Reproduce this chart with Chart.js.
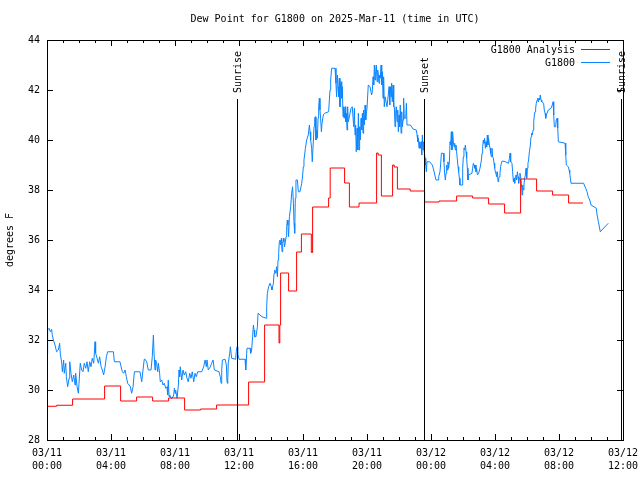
<!DOCTYPE html>
<html>
<head>
<meta charset="utf-8">
<title>Dew Point for G1800</title>
<script src="https://cdn.jsdelivr.net/npm/chart.js@4"></script>
<style>
  body { margin: 0; background: #fff; }
  canvas { display: block; }
</style>
</head>
<body>
<canvas id="myChart" width="640" height="480"></canvas>
<script>
// time is hours after 03/11 00:00 UTC, dew point in degrees F

// hourly analysis (value starts at the given hour)
const analysisHours = [0, 0.6, 1.6, 3.6, 4.6, 5.6, 6.6, 7.6, 8.6, 9.6,
  10.6, 12.6, 13.6, 14.5, 14.55, 14.6, 15.1, 15.6, 15.9, 16.52,
  16.6, 17.6, 17.7, 18.6, 18.9, 19.5, 20.6, 20.7, 20.9, 21.6,
  21.7, 21.9, 22.7, 23.6, 24.5, 25.6, 26.6, 27.6, 28.6, 29.6,
  30.6, 31.6, 32.6, 33.5];
const analysisDewpt = [29.35, 29.39, 29.64, 30.16, 29.56, 29.72, 29.56, 29.68, 29.2, 29.24,
  29.4, 30.32, 32.6, 31.88, 32.6, 34.68, 33.96, 35.52, 36.24, 35.5,
  37.32, 37.68, 38.88, 38.28, 37.32, 37.48, 39.48, 39.4, 37.76, 39.0,
  38.92, 38.04, 37.96, 37.52, 37.56, 37.76, 37.68, 37.44, 37.08, 38.44,
  37.96, 37.8, 37.48, 37.48];

// station readings [hour, dew point]
const g1800Obs = [
  [0.00,31.47],[0.04,32.40],[0.13,32.47],[0.21,32.33],[0.29,32.43],[0.33,32.20],[0.40,32.00],[0.50,31.80],[0.60,31.53],[0.71,31.60],
  [0.79,31.87],[0.83,31.47],[0.92,31.07],[0.96,30.73],[1.04,31.20],[1.08,30.67],[1.17,31.07],[1.21,30.53],[1.29,30.13],[1.38,30.47],
  [1.42,31.13],[1.50,30.67],[1.58,30.33],[1.67,30.60],[1.75,30.20],[1.79,30.67],[1.88,30.13],[1.96,29.87],[2.00,30.27],[2.08,31.07],
  [2.17,30.80],[2.25,30.73],[2.33,31.07],[2.42,30.87],[2.50,31.13],[2.58,30.73],[2.67,31.13],[2.75,30.93],[2.83,31.27],[2.92,31.07],
  [3.00,31.93],[3.04,31.47],[3.13,31.27],[3.21,31.07],[3.29,31.33],[3.38,30.93],[3.46,30.80],[3.54,30.60],[3.63,30.93],[3.71,31.33],
  [3.79,31.53],[4.15,31.53],[4.21,31.13],[4.56,31.13],[4.63,30.93],[4.71,30.73],[4.79,30.67],[4.88,30.80],[4.96,30.53],[5.04,30.27],
  [5.13,30.20],[5.21,30.13],[5.29,29.87],[5.38,30.13],[5.46,30.73],[5.81,30.73],[5.92,30.33],[6.00,30.80],[6.08,31.23],
  [6.13,31.23],[6.23,31.13],[6.33,30.80],[6.50,30.80],[6.58,31.33],[6.65,32.20],[6.69,31.47],[6.75,30.80],[6.79,31.20],[6.85,31.07],
  [6.92,30.73],[6.96,31.07],[7.04,30.67],[7.08,30.33],[7.17,30.40],[7.25,30.20],[7.33,30.27],[7.42,30.07],[7.50,30.13],[7.54,29.80],
  [7.58,30.40],[7.63,29.73],[7.67,29.80],[7.75,29.67],[7.83,29.67],[7.92,29.80],[7.96,30.07],[8.00,29.87],[8.04,30.00],[8.13,29.67],
  [8.21,30.20],[8.25,30.80],[8.29,30.53],[8.33,30.93],[8.42,30.40],[8.50,30.80],[8.58,30.60],[8.67,30.73],[8.75,30.47],[8.83,30.33],
  [8.92,30.67],[9.00,30.47],[9.08,30.73],[9.17,30.33],[9.25,30.67],[9.33,30.53],[9.42,30.73],[9.67,30.73],[9.79,30.93],[9.88,31.20],
  [9.96,30.93],[10.00,31.20],[10.08,30.80],[10.21,30.93],[10.29,31.07],[10.38,31.20],[10.46,30.80],[10.75,30.73],[10.83,30.53],[10.88,30.27],
  [10.92,30.80],[10.96,31.20],[11.13,31.23],[11.21,31.00],[11.25,30.33],[11.29,30.27],[11.33,31.07],[11.42,31.47],[11.46,31.73],[11.54,31.27],
  [11.79,31.23],[11.83,31.53],[11.88,31.73],[11.92,31.47],[12.00,31.23],[12.38,31.23],[12.42,30.80],[12.46,31.23],[12.50,31.67],
  [12.69,31.67],[12.73,31.47],[12.79,31.60],[12.85,32.13],[12.90,32.60],[12.94,32.40],[12.98,32.13],[13.06,32.13],[13.15,32.53],[13.19,33.07],
  [13.44,32.93],[13.69,32.87],[13.73,33.33],[13.77,33.87],[13.85,34.13],[13.94,34.27],[14.02,34.13],[14.06,34.00],[14.15,34.27],[14.19,34.67],
  [14.23,34.80],[14.31,34.67],[14.35,34.93],[14.40,34.53],[14.44,35.20],[14.48,35.47],[14.52,35.93],[14.56,36.00],[14.60,35.80],[14.65,36.07],
  [14.69,35.53],[14.73,35.87],[14.77,36.07],[14.81,35.93],[14.85,35.73],[14.94,36.13],[14.98,36.53],[15.02,36.80],[15.06,36.60],[15.10,36.13],
  [15.15,36.93],[15.23,37.33],[15.29,37.87],[15.35,38.13],[15.40,37.47],[15.44,36.67],[15.48,36.27],[15.52,37.67],[15.56,38.40],[15.65,38.40],
  [15.71,37.93],[15.81,37.93],[15.92,38.27],[15.98,38.60],[16.02,38.93],[16.06,39.20],[16.10,39.40],[16.15,39.67],[16.23,40.00],[16.33,40.20],
  [16.40,40.60],[16.44,40.33],[16.48,40.00],[16.54,39.67],[16.58,39.13],[16.65,40.00],[16.69,40.53],[16.73,40.87],[16.77,40.93],[16.81,40.00],
  [16.85,40.40],[16.90,40.07],[16.94,40.87],[16.98,41.33],[17.02,41.67],[17.06,41.20],[17.10,40.87],[17.15,40.33],[17.19,40.67],[17.27,41.00],
  [17.35,41.07],[17.60,41.13],[17.69,42.00],[17.73,42.40],[17.79,42.87],[18.00,42.87],[18.06,42.27],[18.10,41.73],[18.15,42.60],[18.19,42.13],
  [18.23,41.73],[18.27,42.47],[18.31,41.33],
  [18.33,42.07],[18.38,42.33],[18.42,41.67],[18.46,42.13],[18.50,40.93],[18.54,41.33],[18.58,40.87],[18.63,41.33],[18.67,40.73],[18.71,41.07],
  [18.75,40.40],[18.79,41.33],[18.83,40.73],[18.92,41.00],[19.00,41.27],[19.08,41.33],[19.17,40.53],[19.21,41.27],[19.25,40.20],[19.29,40.60],
  [19.33,39.53],[19.38,40.47],[19.42,39.60],[19.46,41.07],[19.50,39.60],[19.54,40.53],[19.58,40.00],[19.63,40.87],[19.67,40.40],[19.71,41.07],
  [19.75,40.27],[19.79,41.20],[19.83,40.60],[19.88,41.40],[19.92,40.80],[19.96,41.07],[20.00,41.27],[20.08,42.20],[20.19,42.13],[20.29,41.80],
  [20.33,41.93],[20.38,42.53],[20.42,42.20],[20.46,43.00],[20.50,42.40],[20.54,42.73],[20.58,43.00],[20.63,42.33],[20.67,42.80],[20.71,42.60],
  [20.75,42.27],[20.79,42.60],[20.83,42.47],[20.88,43.00],[20.92,42.20],[20.96,42.73],[21.00,41.67],[21.04,42.53],[21.08,41.33],[21.13,41.73],
  [21.25,41.33],[21.33,41.80],[21.38,42.13],[21.42,41.40],[21.46,42.13],[21.50,41.73],[21.54,42.27],[21.58,41.53],[21.63,42.20],[21.67,41.33],
  [21.71,41.33],[21.75,40.53],[21.79,41.07],[21.83,41.33],[21.88,40.73],[21.92,41.20],[21.96,40.33],[22.00,41.00],[22.04,40.53],[22.08,41.40],
  [22.13,40.27],[22.17,41.13],[22.21,40.53],[22.25,40.80],[22.29,41.67],[22.33,40.87],[22.42,40.87],[22.46,41.47],[22.50,40.60],[22.71,40.60],
  [22.88,40.44],[23.08,40.40],[23.13,40.20],[23.17,39.93],[23.21,40.07],[23.25,39.67],[23.29,39.93],[23.33,39.67],[23.38,39.93],[23.42,39.40],
  [23.46,40.20],[23.50,39.60],[23.54,39.93],[23.58,39.53],[23.63,39.27],[23.67,39.00],[23.71,38.73],[23.75,39.13],[23.92,39.13],[24.08,39.00],
  [24.17,38.80],
  [24.31,38.40],[24.44,38.40],[24.48,38.53],[24.56,38.73],[24.60,39.00],[24.65,39.47],[24.77,39.47],[24.81,39.13],[24.85,38.67],[24.90,38.40],
  [24.94,38.67],[24.98,39.00],[25.02,38.80],[25.06,39.13],[25.10,38.87],[25.15,39.13],[25.19,39.93],[25.23,39.80],[25.27,40.33],[25.31,39.60],
  [25.35,40.33],[25.40,39.93],[25.44,39.73],[25.48,39.87],[25.52,39.60],[25.56,39.80],[25.60,39.53],[25.65,39.20],[25.69,38.93],[25.73,38.73],
  [25.77,38.47],[25.81,38.20],[25.94,38.20],[25.98,38.87],[26.02,39.33],[26.06,39.67],[26.10,39.60],[26.15,39.80],[26.19,39.53],[26.23,39.27],
  [26.27,38.87],[26.31,38.40],[26.35,38.60],[26.56,38.67],[26.60,38.87],[26.65,39.07],[26.69,39.00],[26.73,38.87],[26.77,39.00],[26.81,38.73],
  [26.85,38.87],[26.90,38.60],[26.98,38.67],[27.06,38.87],[27.10,39.00],[27.15,39.20],[27.19,39.47],[27.23,39.73],[27.27,40.00],[27.31,39.87],
  [27.35,40.07],[27.40,39.67],[27.44,39.93],[27.48,39.73],[27.52,40.20],[27.56,39.80],[27.60,40.07],[27.65,39.80],[27.69,39.67],[27.73,39.47],
  [27.77,39.33],[27.81,39.67],[27.85,39.33],[27.90,39.27],[27.94,39.07],[27.98,38.87],[28.02,38.73],[28.06,38.67],[28.10,38.53],[28.15,38.73],
  [28.19,38.33],[28.23,38.47],[28.27,38.53],[28.31,38.67],[28.35,38.93],[28.40,39.07],[28.44,39.16],[28.65,39.13],[28.85,39.07],[28.90,39.27],
  [28.94,39.47],[28.98,39.13],[29.06,39.07],[29.10,38.73],[29.15,38.33],[29.19,38.47],[29.23,38.27],[29.27,38.53],[29.31,38.60],[29.35,38.40],
  [29.40,38.73],[29.44,38.53],[29.48,38.27],[29.52,38.47],[29.56,38.67],[29.60,38.53],[29.65,38.27],[29.69,37.80],[29.73,38.20],[29.77,38.00],
  [29.81,38.20],[29.85,38.47],[29.90,38.60],[29.94,38.87],[29.98,38.47],[30.02,38.87],[30.06,39.07],[30.10,39.20],[30.15,39.53],
  [30.21,39.80],[30.25,40.13],[30.29,40.27],[30.33,40.20],[30.38,40.40],[30.42,40.73],[30.46,41.00],[30.50,41.13],[30.54,41.27],[30.58,41.47],
  [30.63,41.60],[30.67,41.67],[30.71,41.53],[30.75,41.67],[30.79,41.60],[30.83,41.80],[30.88,41.60],[30.92,41.53],[31.04,41.47],[31.08,41.20],
  [31.13,41.07],[31.17,40.87],[31.21,41.00],[31.25,41.07],[31.33,41.20],[31.50,41.27],[31.58,41.40],[31.63,41.53],[31.67,41.00],[31.71,40.53],
  [31.79,40.53],[31.83,40.80],[31.88,40.87],[31.92,40.47],[31.96,39.93],[32.38,39.87],[32.42,39.40],[32.46,39.00],[32.58,38.93],[32.63,38.80],
  [32.67,38.67],[32.71,38.47],[32.75,38.27],[33.54,38.27],[33.58,38.20],[33.67,38.07],[33.75,37.93],[33.83,37.73],[33.92,37.60],[34.00,37.40],
  [34.33,37.27],[34.38,37.00],[34.46,36.73],[34.50,36.60],[34.58,36.33],[35.08,36.67]
];

const sunHours = [11.88, 23.58, 35.85];
const sunLabels = ['Sunrise', 'Sunset', 'Sunrise'];

const monoFont = 'DejaVu Sans Mono';

function hourLabel(h) {
  const day = 11 + Math.floor(h / 24);
  const hh = h % 24;
  return ['03/' + day, String(hh).padStart(2, '0') + ':00'];
}

// gnuplot style frame, inward ticks, sun lines and legend
const gnuplotBits = {
  id: 'gnuplotBits',
  afterDatasetsDraw(chart) {
    const ctx = chart.ctx;
    const a = chart.chartArea;
    const x = chart.scales.x;
    const y = chart.scales.y;
    ctx.save();
    ctx.strokeStyle = '#000';
    ctx.lineWidth = 1;
    ctx.strokeRect(a.left + 0.5, a.top + 0.5, a.right - a.left, a.bottom - a.top);

    ctx.beginPath();
    for (let h = 0; h <= 36; h++) {
      const px = Math.round(x.getPixelForValue(h)) + 0.5;
      const len = h % 4 === 0 ? 6 : 3;
      ctx.moveTo(px, a.bottom);
      ctx.lineTo(px, a.bottom - len);
      ctx.moveTo(px, a.top);
      ctx.lineTo(px, a.top + len);
    }
    for (let v = 28; v <= 44; v += 2) {
      const py = Math.round(y.getPixelForValue(v)) + 0.5;
      ctx.moveTo(a.left, py);
      ctx.lineTo(a.left + 6, py);
      ctx.moveTo(a.right, py);
      ctx.lineTo(a.right - 6, py);
    }
    ctx.stroke();

    // sunrise / sunset
    ctx.font = '10px ' + monoFont;
    ctx.fillStyle = '#000';
    sunHours.forEach((h, i) => {
      const px = Math.round(x.getPixelForValue(h)) + 0.5;
      ctx.beginPath();
      ctx.moveTo(px, 99);
      ctx.lineTo(px, a.bottom);
      ctx.stroke();
      ctx.save();
      ctx.translate(px + 1, 93);
      ctx.rotate(-Math.PI / 2);
      ctx.textAlign = 'left';
      ctx.textBaseline = 'middle';
      ctx.fillText(sunLabels[i], 0, 0);
      ctx.restore();
    });

    // legend
    ctx.textAlign = 'right';
    ctx.textBaseline = 'middle';
    chart.data.datasets.forEach((ds, i) => {
      const ly = 50 + i * 13;
      ctx.fillStyle = '#000';
      ctx.fillText(ds.label, 575, ly);
      ctx.strokeStyle = ds.borderColor;
      ctx.beginPath();
      ctx.moveTo(581, ly - 0.5);
      ctx.lineTo(610, ly - 0.5);
      ctx.stroke();
    });
    ctx.restore();
  }
};

const ctx = document.getElementById('myChart');
new Chart(ctx, {
  type: 'line',
  data: {
    datasets: [{
      label: 'G1800 Analysis',
      data: analysisHours.map((h, i) => ({ x: h, y: analysisDewpt[i] })),
      borderColor: '#ff0000',
      borderWidth: 1,
      stepped: true,
      pointRadius: 0
    }, {
      label: 'G1800',
      data: g1800Obs.map(p => ({ x: p[0], y: p[1] })),
      borderColor: '#0a84ff',
      borderWidth: 1,
      tension: 0,
      pointRadius: 0
    }]
  },
  options: {
    responsive: false,
    animation: false,
    layout: { padding: { left: 0, right: 17, top: 0, bottom: 0 } },
    plugins: {
      legend: { display: false },
      tooltip: { enabled: false },
      title: {
        display: true,
        fullSize: false,
        text: 'Dew Point for G1800 on 2025-Mar-11 (time in UTC)',
        color: '#000',
        font: { family: monoFont, size: 10, weight: 'normal', lineHeight: 1.2 },
        padding: { top: 13, bottom: 15 }
      }
    },
    scales: {
      x: {
        type: 'linear',
        min: 0,
        max: 36,
        grid: { display: false, drawTicks: false },
        border: { display: false },
        afterFit: s => { s.height = 40; s.paddingLeft = 0; s.paddingRight = 0; },
        ticks: {
          stepSize: 4,
          autoSkip: false,
          maxRotation: 0,
          padding: 7,
          color: '#000',
          font: { family: monoFont, size: 10, lineHeight: 1.3 },
          callback: v => hourLabel(v)
        }
      },
      y: {
        min: 28,
        max: 44,
        grid: { display: false, drawTicks: false },
        border: { display: false },
        afterFit: s => { s.width = 47; },
        title: {
          display: true,
          text: 'degrees F',
          color: '#000',
          font: { family: monoFont, size: 10, lineHeight: 1.2 },
          padding: { top: 4, bottom: 0 }
        },
        ticks: {
          stepSize: 2,
          padding: 7,
          color: '#000',
          font: { family: monoFont, size: 10 }
        }
      }
    }
  },
  plugins: [gnuplotBits]
});
</script>
</body>
</html>
